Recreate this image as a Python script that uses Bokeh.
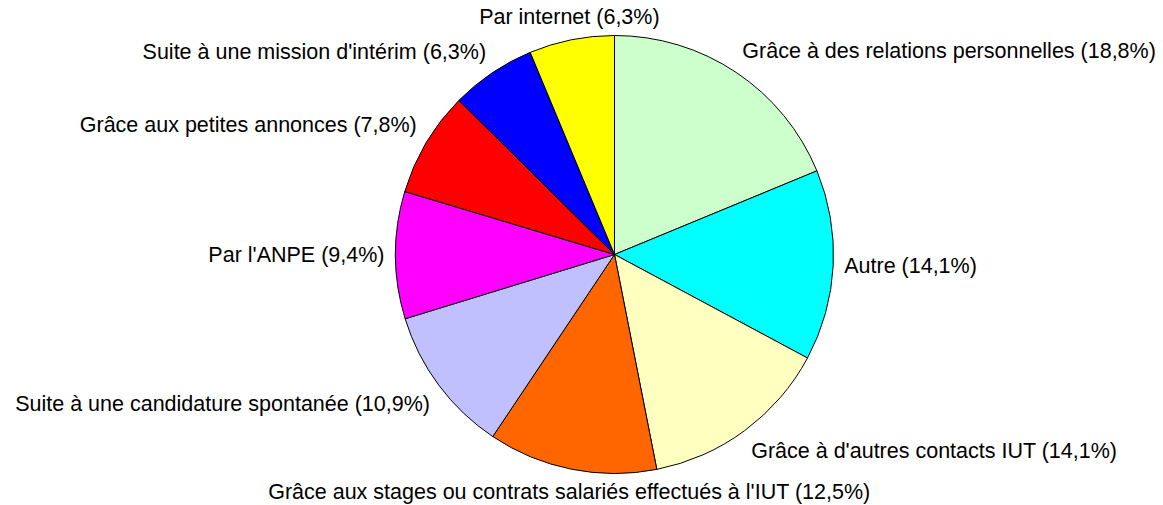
import math
from bokeh.plotting import figure
from bokeh.models import ColumnDataSource, Range1d
from bokeh.core.properties import value
from bokeh.embed import file_html
from bokeh.resources import INLINE

# ---- data ----
categories = [
    "Grâce à des relations personnelles",
    "Autre",
    "Grâce à d'autres contacts IUT",
    "Grâce aux stages ou contrats salariés effectués à l'IUT",
    "Suite à une candidature spontanée",
    "Par l'ANPE",
    "Grâce aux petites annonces",
    "Suite à une mission d'intérim",
    "Par internet",
]
percentages = [18.8, 14.1, 14.1, 12.5, 10.9, 9.4, 7.8, 6.3, 6.3]
colors = ["#CCFFCC", "#00FFFF", "#FFFFC0", "#FF6600", "#C0C0FF",
          "#FF00FF", "#FF0000", "#0000FF", "#FFFF00"]

# ---- layout ----
W, H = 1163, 505
PAGE_OFF = 0
CX, CY, R = 614, 254, 219          # pie centre / radius in page pixels
LABEL_R = 230 / R                   # label anchor radius (in pie radii)

total = sum(percentages)
starts, ends, aligns, baselines, lx, ly, texts = [], [], [], [], [], [], []
cum = 0.0
for name, v in zip(categories, percentages):
    a0 = math.pi / 2 - 2 * math.pi * cum / total
    cum += v
    a1 = math.pi / 2 - 2 * math.pi * cum / total
    starts.append(a0)
    ends.append(a1)
    mid = (a0 + a1) / 2
    c, s = math.cos(mid), math.sin(mid)
    lx.append(LABEL_R * c)
    ly.append(LABEL_R * s)
    aligns.append("left" if c > 0.3 else ("right" if c < -0.3 else "center"))
    baselines.append("bottom" if s > 0.3 else ("top" if s < -0.3 else "middle"))
    texts.append(f"{name} ({v:.1f}%)".replace(".", ","))

wedges = ColumnDataSource(dict(start=starts, end=ends, color=colors))
labels = ColumnDataSource(dict(x=lx, y=ly, text=texts, align=aligns, base=baselines))

x_range = Range1d((PAGE_OFF - CX) / R, (PAGE_OFF + W - CX) / R)
y_range = Range1d((CY - (PAGE_OFF + H)) / R, (CY - PAGE_OFF) / R)

p = figure(width=W, height=H, x_range=x_range, y_range=y_range,
           output_backend="svg", toolbar_location=None, min_border=0)
p.axis.visible = False
p.grid.visible = False
p.outline_line_color = None
p.background_fill_color = "white"
p.border_fill_color = "white"

p.wedge(x=0, y=0, radius=1, start_angle="start", end_angle="end",
        direction="clock", fill_color="color", line_color="black",
        line_width=1, source=wedges)

p.text(x="x", y="y", text="text", text_align="align", text_baseline="base",
       text_font=value("Liberation Sans"), text_font_size=value("21.5px"),
       text_color="black", source=labels)

open("out.html", "w").write(file_html(p, INLINE))
